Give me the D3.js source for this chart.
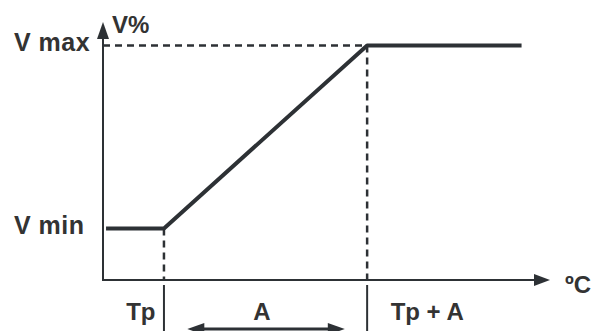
<!DOCTYPE html>
<html>
<head>
<meta charset="utf-8">
<script src="https://cdn.jsdelivr.net/npm/d3@7"></script>
<style>
    body { margin: 0; background: #fff; }
    text { font-family: "Liberation Sans", Arial, sans-serif; font-weight: bold; fill: #333; }
</style>
</head>
<body>
<svg id="chart" width="608" height="331"></svg>
<script>
// curve: temperature (axis units) vs. V%
const tempValues = [0.15, 3, 13, 20.6];
const voltValues = [22, 22, 100, 100];

const yTickValues = [22, 100];
const yTickLabels = ['V min', 'V max'];
const xTickValues = [3, 8, 13];
const xTickLabels = ['Tp', 'A', 'Tp + A'];
const axisTitles = ['V%', 'ºC'];
const spanA = [4.15, 11.9];   // the A double arrow, in axis units

const ink = '#2d3135';
const svg = d3.select('#chart');

const xScale = d3.scaleLinear().domain([0, 22]).range([103, 550]);
const yScale = d3.scaleLinear().domain([0, 110]).range([280, 22]);

const x0 = xScale(0), y0 = yScale(0);
const xEnd = xScale.range()[1], yEnd = yScale.range()[1];

// guide lines (dashed)
const tp = xScale(tempValues[1]);
const tpa = xScale(tempValues[2]);
const guides = [
    [[x0, yScale(voltValues[2])], [tpa, yScale(voltValues[2])]],
    [[tp, yScale(voltValues[1])], [tp, y0]],
    [[tpa, yScale(voltValues[2])], [tpa, y0]]
];
svg.selectAll('.guide')
    .data(guides)
    .join('path')
    .attr('class', 'guide')
    .attr('d', d3.line())
    .attr('fill', 'none')
    .attr('stroke', ink)
    .attr('stroke-width', 2.5)
    .attr('stroke-dasharray', '7,5');

// separators below the x axis
svg.selectAll('.sep')
    .data([tempValues[1], tempValues[2]])
    .join('line')
    .attr('class', 'sep')
    .attr('x1', d => xScale(d)).attr('x2', d => xScale(d))
    .attr('y1', y0 + 5).attr('y2', 331)
    .attr('stroke', ink)
    .attr('stroke-width', 2);

// axes with arrowheads
svg.append('line')
    .attr('x1', x0).attr('y1', y0).attr('x2', x0).attr('y2', yEnd + 15)
    .attr('stroke', ink).attr('stroke-width', 2);
svg.append('line')
    .attr('x1', x0 - 1).attr('y1', y0).attr('x2', xEnd - 15).attr('y2', y0)
    .attr('stroke', ink).attr('stroke-width', 2);
svg.append('path')
    .attr('d', `M${x0 - 6},${yEnd + 17}L${x0},${yEnd}L${x0 + 6},${yEnd + 17}Z`)
    .attr('fill', ink);
svg.append('path')
    .attr('d', `M${xEnd - 16},${y0 - 6}L${xEnd},${y0}L${xEnd - 16},${y0 + 6}Z`)
    .attr('fill', ink);

// y labels (left aligned)
const yAxis = d3.axisLeft(yScale)
    .tickValues(yTickValues)
    .tickFormat((_, i) => yTickLabels[i])
    .tickSize(0);
const yg = svg.append('g')
    .attr('transform', `translate(${x0}, 0)`)
    .call(yAxis);
yg.select('.domain').remove();
yg.selectAll('text')
    .attr('x', 14 - x0)
    .attr('dy', 5)
    .attr('text-anchor', 'start')
    .style('font-size', '25px')
    .style('letter-spacing', '0.5px')
    .style('font-family', '"Liberation Sans", Arial, sans-serif')
    .style('font-weight', 'bold')
    .attr('fill', '#333');

// x labels
const xAxis = d3.axisBottom(xScale)
    .tickValues(xTickValues)
    .tickFormat((_, i) => xTickLabels[i])
    .tickSize(0);
const xg = svg.append('g')
    .attr('transform', `translate(0, ${y0})`)
    .call(xAxis);
xg.select('.domain').remove();
const xAnchor = ['end', 'middle', 'start'];
const xShift = [-9, -4, 23];
xg.selectAll('text')
    .attr('y', 39.5)
    .attr('dy', 0)
    .attr('dx', (_, i) => xShift[i])
    .attr('text-anchor', (_, i) => xAnchor[i])
    .style('font-size', '24px')
    .style('font-family', '"Liberation Sans", Arial, sans-serif')
    .style('font-weight', 'bold')
    .attr('fill', '#333');

// axis titles
svg.append('text')
    .attr('x', x0 + 9).attr('y', yEnd + 11)
    .style('font-size', '24px')
    .text(axisTitles[0]);
svg.append('text')
    .attr('x', xEnd + 15).attr('y', y0 + 13)
    .style('font-size', '24px')
    .text(axisTitles[1]);

// A span double arrow
const ay = 329;
const a1 = xScale(spanA[0]), a2 = xScale(spanA[1]);
svg.append('line')
    .attr('x1', a1 + 10).attr('x2', a2 - 10)
    .attr('y1', ay).attr('y2', ay)
    .attr('stroke', ink).attr('stroke-width', 3);
svg.append('path')
    .attr('d', `M${a1 + 17},${ay - 6}L${a1},${ay}L${a1 + 17},${ay + 6}Z`)
    .attr('fill', ink);
svg.append('path')
    .attr('d', `M${a2 - 17},${ay - 6}L${a2},${ay}L${a2 - 17},${ay + 6}Z`)
    .attr('fill', ink);

// the characteristic curve
const line = d3.line()
    .x((d, i) => xScale(tempValues[i]))
    .y(d => yScale(d));
svg.append('path')
    .datum(voltValues)
    .attr('d', line)
    .attr('fill', 'none')
    .attr('stroke', ink)
    .attr('stroke-width', 4)
    .attr('stroke-linejoin', 'round');
</script>
</body>
</html>
